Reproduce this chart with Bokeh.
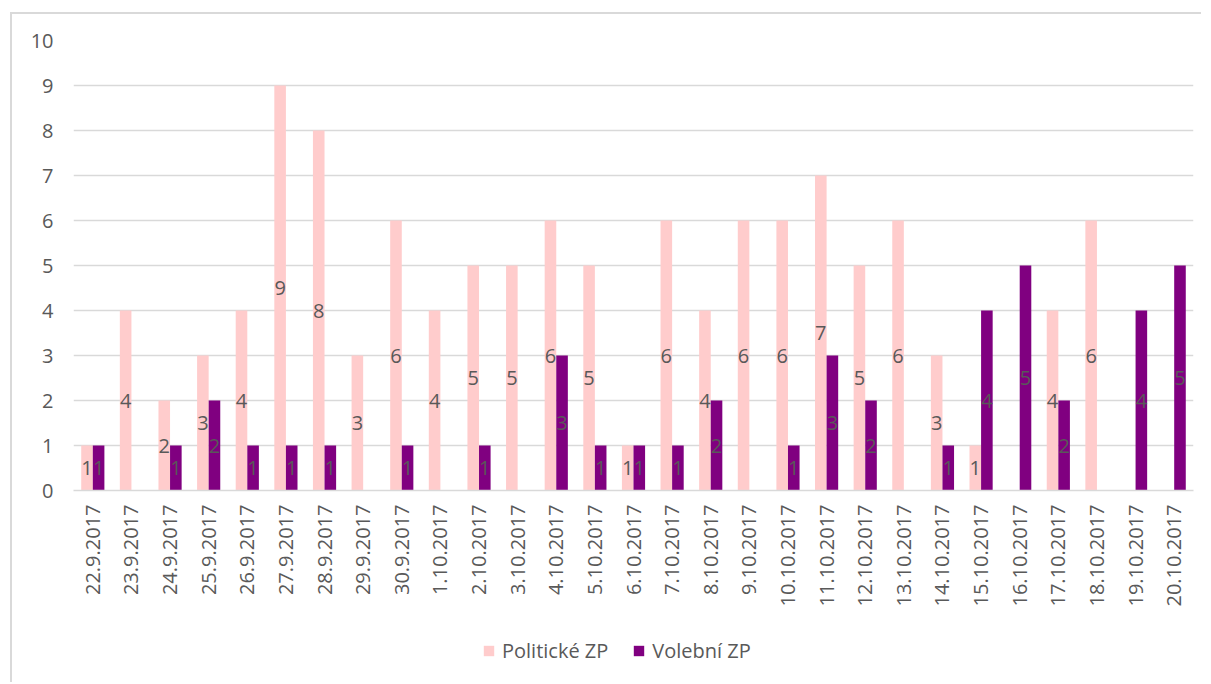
import math
from bokeh.plotting import figure
from bokeh.layouts import column
from bokeh.models import FactorRange, Range1d, ColumnDataSource, FixedTicker, Legend
from bokeh.transform import dodge
from bokeh.core.properties import value
from bokeh.embed import file_html
from bokeh.resources import INLINE

dates = ["22.9.2017", "23.9.2017", "24.9.2017", "25.9.2017", "26.9.2017", "27.9.2017",
         "28.9.2017", "29.9.2017", "30.9.2017", "1.10.2017", "2.10.2017", "3.10.2017",
         "4.10.2017", "5.10.2017", "6.10.2017", "7.10.2017", "8.10.2017", "9.10.2017",
         "10.10.2017", "11.10.2017", "12.10.2017", "13.10.2017", "14.10.2017", "15.10.2017",
         "16.10.2017", "17.10.2017", "18.10.2017", "19.10.2017", "20.10.2017"]
politicke = [1, 4, 2, 3, 4, 9, 8, 3, 6, 4, 5, 5, 6, 5, 1, 6, 4, 6, 6, 7, 5, 6, 3, 1, 0, 4, 6, 0, 0]
volebni = [1, 0, 1, 2, 1, 1, 1, 0, 1, 0, 1, 0, 3, 1, 1, 1, 2, 0, 1, 3, 2, 0, 1, 4, 5, 2, 0, 4, 5]
series_names = ["Politické ZP", "Volební ZP"]
y_ticks = [0, 1, 2, 3, 4, 5, 6, 7, 8, 9, 10]

PINK = "#FFCCCC"
PURPLE = "#800080"
GRAY = "#595959"
GRID = "#D9D9D9"
FONT = "Open Sans"
FS = "20px"

src = ColumnDataSource(dict(cat=dates, pol=politicke, vol=volebni))

def label_source(vals):
    c = [d for d, v in zip(dates, vals) if v > 0]
    v = [x for x in vals if x > 0]
    return ColumnDataSource(dict(cat=c, y=[x / 2 for x in v], t=[str(x) for x in v]))

xr = FactorRange(factors=dates, range_padding=0)
p = figure(x_range=xr, y_range=Range1d(0, 10),
           width=1191, height=626,
           min_border_left=61, min_border_right=10, min_border_top=26, min_border_bottom=150,
           output_backend="svg", toolbar_location=None)
p.margin = (12, 0, 0, 10)
p.styles = {"border-left": "2px solid #D9D9D9", "border-top": "2px solid #D9D9D9"}

p.vbar(x=dodge("cat", -0.15, range=xr), top="pol", width=0.3,
       color=PINK, line_color=None, source=src)
p.vbar(x=dodge("cat", 0.15, range=xr), top="vol", width=0.3,
       color=PURPLE, line_color=None, source=src)

for vals, off in ((politicke, -0.15), (volebni, 0.15)):
    p.text(x=dodge("cat", off, range=xr), y="y", text="t", source=label_source(vals),
           text_align="center", text_baseline="middle", text_color=GRAY,
           text_font=value(FONT), text_font_size=value(FS))

p.outline_line_color = None
p.xgrid.grid_line_color = None
p.ygrid.grid_line_color = GRID
p.ygrid.grid_line_width = 1.5

p.yaxis.ticker = FixedTicker(ticks=y_ticks)
p.yaxis.axis_line_color = None
p.yaxis.major_tick_line_color = None
p.yaxis.minor_tick_line_color = None
p.yaxis.major_tick_out = 0
p.yaxis.major_label_standoff = 20
p.yaxis.major_label_text_color = GRAY
p.yaxis.major_label_text_font = FONT
p.yaxis.major_label_text_font_size = FS

p.xaxis.axis_line_color = GRID
p.xaxis.axis_line_width = 1.5
p.xaxis.major_tick_line_color = None
p.xaxis.major_tick_out = 0
p.xaxis.major_label_standoff = 14
p.xaxis.major_label_orientation = math.pi / 2
p.xaxis.major_label_text_color = GRAY
p.xaxis.major_label_text_font = FONT
p.xaxis.major_label_text_font_size = FS

# legend strip below the chart (same series, view range placed above the data so only the key shows)
lp = figure(width=1191, height=44, x_range=xr, y_range=Range1d(20, 21),
            x_axis_type=None, y_axis_type=None,
            min_border_left=0, min_border_right=0, min_border_top=0, min_border_bottom=0,
            output_backend="svg", toolbar_location=None)
lp.margin = (0, 0, 0, 10)
lp.styles = {"border-left": "2px solid #D9D9D9"}
lp.outline_line_color = None
lp.xgrid.grid_line_color = None
lp.ygrid.grid_line_color = None
k1 = lp.vbar(x=dodge("cat", -0.15, range=xr), top="pol", width=0.3,
             color=PINK, line_color=None, source=src)
k2 = lp.vbar(x=dodge("cat", 0.15, range=xr), top="vol", width=0.3,
             color=PURPLE, line_color=None, source=src)

legend = Legend(items=[(series_names[0], [k1]), (series_names[1], [k2])],
                orientation="horizontal", location=(409, 18),
                glyph_width=13, glyph_height=13, label_standoff=7, spacing=24,
                label_text_color=GRAY, label_text_font=FONT, label_text_font_size=FS,
                border_line_color=None, background_fill_alpha=0, margin=0, padding=0)
lp.add_layout(legend)

layout = column(p, lp, spacing=0)
open("out.html", "w").write(file_html(layout, INLINE))
